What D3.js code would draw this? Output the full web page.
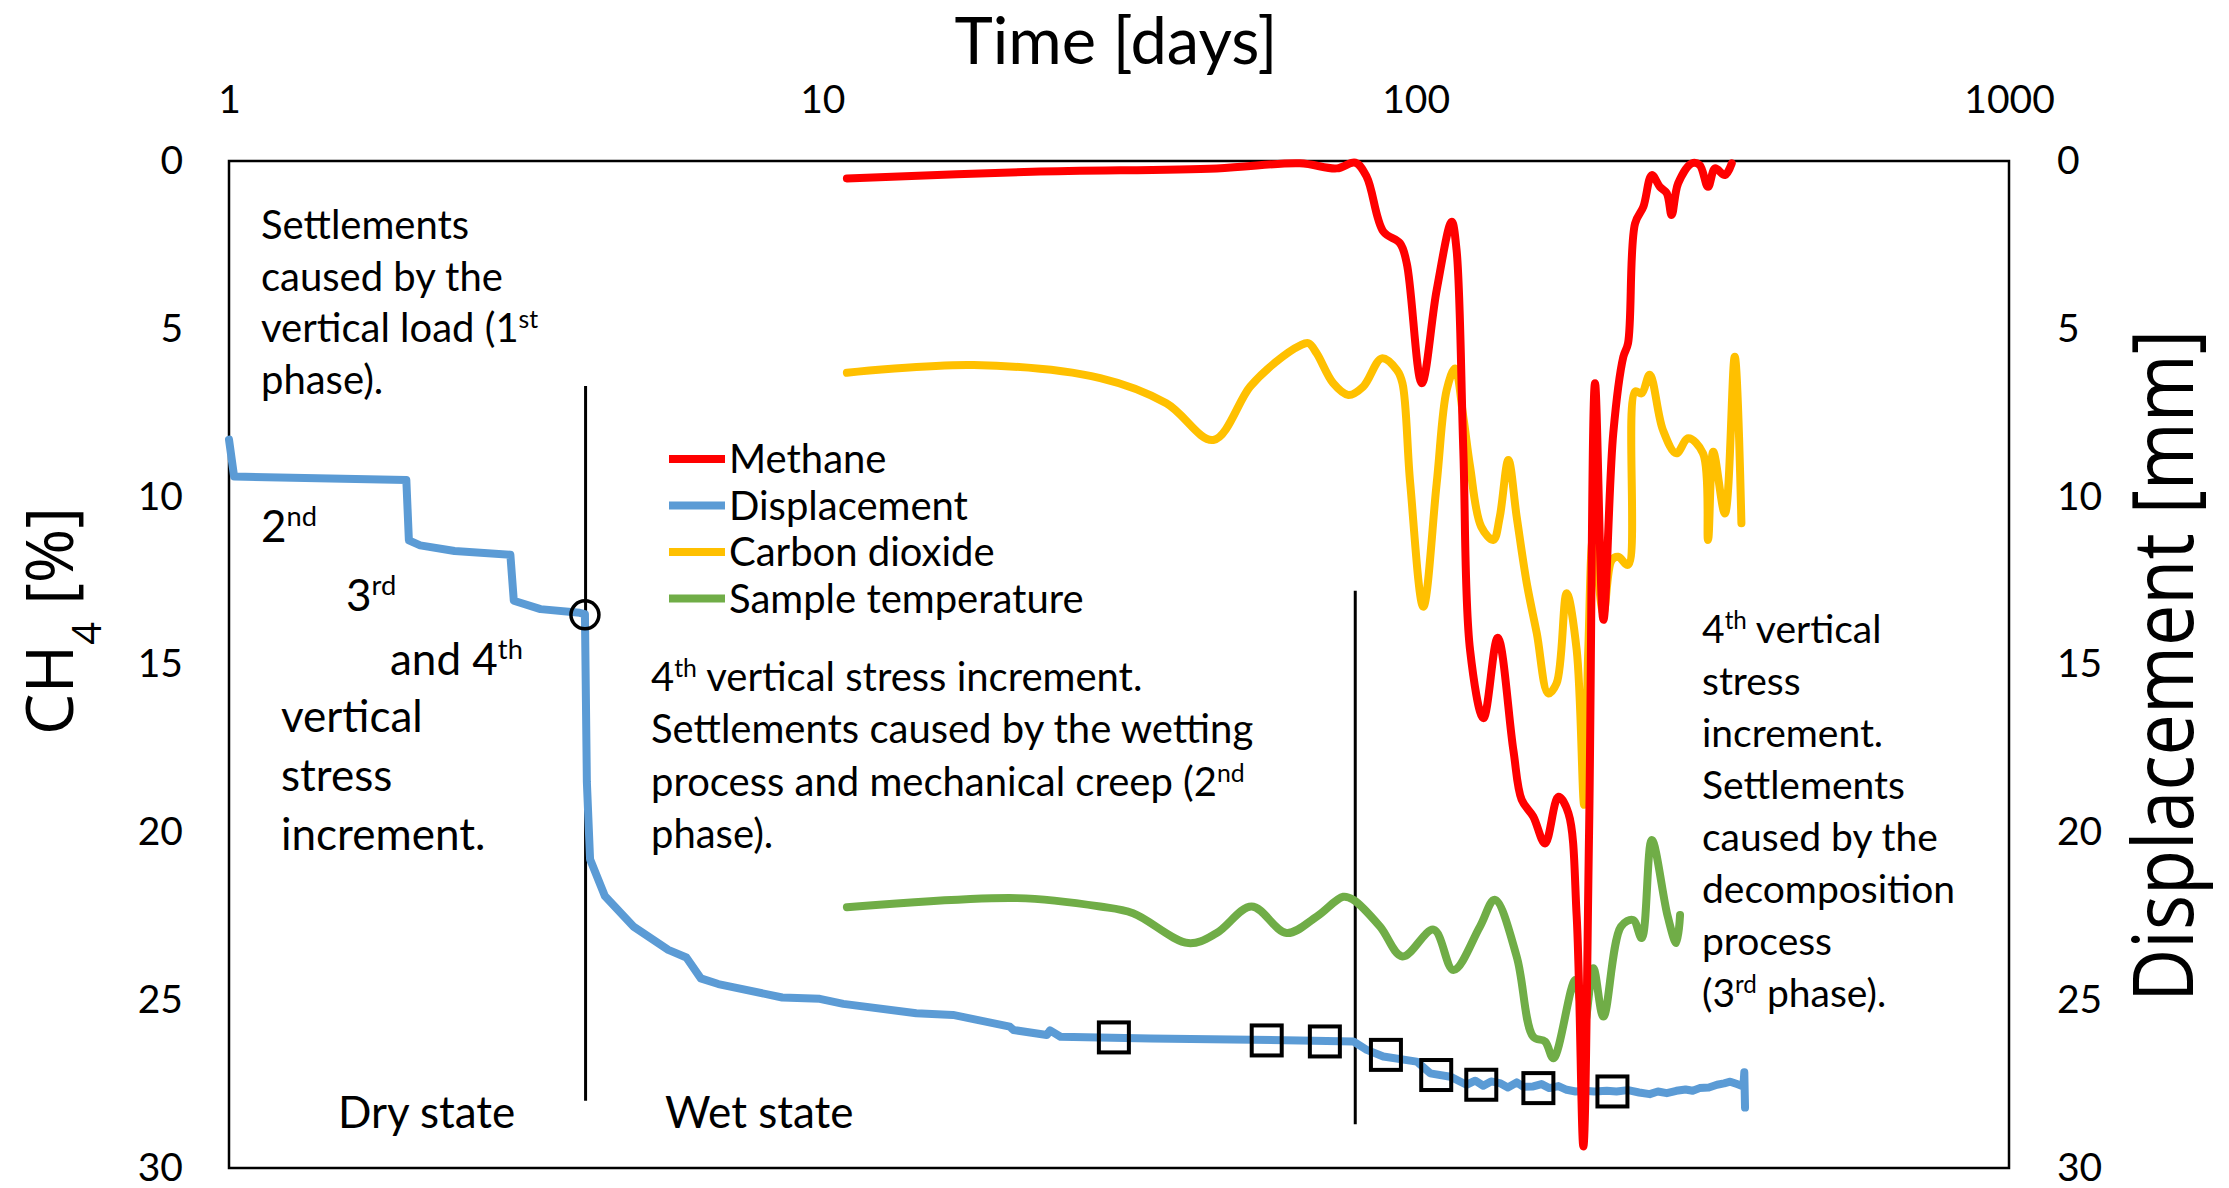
<!DOCTYPE html>
<html>
  <head>
    <meta charset="utf-8">
    <title>Methane, displacement and temperature vs time</title>
    <style>
      body { margin: 0; background: #fff; }
      svg { display: block; }
      .tick text { font-family: Lato, sans-serif; font-size: 39px; fill: #000; }
      .note { font-family: Lato, sans-serif; font-size: 40px; fill: #000; }
      .note.big { font-size: 44px; }
      .note.right { font-size: 39px; }
    </style>
  </head>
  <body>
    <div class="chart"></div>

    <script src="https://d3js.org/d3.v7.min.js"></script>
    <script>
      // series: [time in days, value]
      const methane = [
        [11.0, 0.52], [22.6, 0.32], [46.2, 0.22], [63.8, 0.07], [73.6, 0.22], [79.1, 0.05],
        [82.7, 0.47], [88.2, 2.1], [94.1, 2.45], [96.6, 3.05], [102.4, 6.62], [108.5, 3.84],
        [115.0, 1.81], [117.2, 2.65], [120.3, 8.6], [123.5, 14.57], [130.1, 16.6], [137.5, 14.2],
        [146.1, 17.55], [150.9, 19.03], [157.8, 19.53], [165.2, 20.33], [174, 18.94], [180.9, 19.43],
        [186.8, 22.51], [191.7, 29.36], [196, 20], [200.6, 6.62], [207.2, 13.67], [215.3, 8.11],
        [223.9, 5.83], [228, 5.43], [234.3, 1.86], [242, 1.36], [250, 0.42], [258, 0.77],
        [265, 0.96], [270, 1.61], [277, 0.66], [292, 0.07], [301, 0.12], [311, 0.77],
        [319.6, 0.22], [332, 0.42], [341, 0.07]
      ];

      const carbonDioxide = [
        [11.0, 6.31], [18.0, 6.08], [29.4, 6.47], [38.0, 7.22], [45.6, 8.31], [52.6, 6.72],
        [58, 6.0], [63.8, 5.5], [66, 5.43], [68.1, 5.73], [72.6, 6.62], [77, 6.97],
        [81.6, 6.72], [87.7, 5.88], [93, 6.23], [95, 6.62], [97.9, 9.6], [103, 13.28],
        [108.5, 9.6], [112.8, 6.82], [116.5, 6.18], [120.3, 7.62], [123.5, 9.1], [129, 10.9],
        [135.2, 11.29], [138.6, 10.6], [143.3, 8.91], [148, 10.6], [153.9, 12.58], [160, 14.07],
        [167.3, 15.86], [172.8, 15.56], [179.7, 12.88], [186.8, 14.57], [192.3, 19.18], [195.4, 14.57],
        [199.3, 11.19], [207.2, 13.47], [214, 11.89], [219.5, 11.79], [228, 12.03], [234.3, 6.87],
        [240.4, 6.92], [248, 6.37], [261, 8.01], [275, 8.71], [288, 8.26], [305, 8.71],
        [311, 11.29], [317.4, 8.66], [332, 10.5], [345, 5.83], [354, 10.79]
      ];

      const temperature = [
        [11.0, 22.23], [21.3, 21.96], [29.4, 22.21], [33.4, 22.41], [41.4, 23.3], [46.2, 23.0],
        [52.9, 22.21], [60.6, 23.0], [68.1, 22.51], [75.5, 21.92], [78.5, 22.01], [87.1, 22.81],
        [95, 23.7], [107.2, 22.9], [115.8, 24.1], [128.3, 22.81], [135.9, 22.01], [148, 23.7],
        [157.8, 26.09], [165.2, 26.23], [170.7, 26.73], [185.8, 24.4], [192.3, 25.74], [199.3, 24.05],
        [207.2, 25.49], [221.8, 22.81], [232.5, 22.61], [240.4, 23.15], [250, 20.23], [266, 22.51],
        [275, 23.3], [279, 22.46]
      ];

      const displacement = [
        [1.0, 8.3], [1.02, 9.4], [1.99, 9.5], [2.01, 11.3], [2.1, 11.45], [2.4, 11.62],
        [2.98, 11.73], [3.02, 13.1], [3.35, 13.35], [3.9, 13.46], [3.98, 13.5], [4.01, 18.5],
        [4.06, 20.8], [4.3, 21.9], [4.8, 22.8], [5.5, 23.5], [5.9, 23.73], [6.24, 24.35],
        [6.68, 24.52], [8.56, 24.92], [9.9, 24.96], [10.85, 25.11], [14.4, 25.39], [16.6, 25.44],
        [20.7, 25.79], [21.0, 25.89], [23.9, 26.04], [24.2, 25.9], [25.2, 26.09], [35.7, 26.14],
        [63.8, 26.2], [78.5, 26.23], [82.7, 26.48], [88.2, 26.68], [100.4, 26.83], [105.8, 27.18],
        [114.4, 27.28], [121.8, 27.52], [126, 27.4], [130, 27.55], [134, 27.42], [138.6, 27.47],
        [143, 27.6], [148, 27.45], [152, 27.58], [157.8, 27.57], [163, 27.5], [168, 27.62],
        [174, 27.56], [179.7, 27.67], [186, 27.72], [193, 27.7], [200, 27.72], [210, 27.7],
        [218, 27.72], [228, 27.68], [238, 27.75], [248, 27.8], [256, 27.72], [265, 27.77],
        [275, 27.7], [285, 27.66], [293, 27.7], [301, 27.62], [312, 27.6], [322, 27.52],
        [331, 27.48], [339, 27.43], [348, 27.5], [356.7, 27.57], [358, 27.15], [359, 28.2]
      ];

      // square markers on the displacement curve
      const squareDays = [31.0, 56.1, 70.3, 89.1, 108.3, 129, 161, 214.6];
      const squareValues = [26.11, 26.2, 26.23, 26.63, 27.23, 27.52, 27.62, 27.72];
      // open circle where wetting starts
      const circlePoint = [3.98, 13.52];
      // phase boundaries: [day, from, to]
      const phaseLines = [[3.99, 6.7, 28.0], [79.1, 12.8, 28.7]];

      const xTicks = [1, 10, 100, 1000];
      const yTicks = [0, 5, 10, 15, 20, 25, 30];

      const seriesNames = ["Methane", "Displacement", "Carbon dioxide", "Sample temperature"];
      const seriesColors = ["#ff0000", "#5b9bd5", "#ffc000", "#70ad47"];

      const margin = { top: 161, right: 220, bottom: 20, left: 229 };
      const width = 2229 - margin.left - margin.right;
      const height = 1188 - margin.top - margin.bottom;

      const x = d3.scaleLog().domain([1, 1000]).range([0, width]);
      const y = d3.scaleLinear().domain([0, 30]).range([0, height]);

      const svg = d3.select(".chart")
        .append("svg")
        .attr("width", 2229)
        .attr("height", 1188);

      const g = svg.append("g")
        .attr("transform", `translate(${margin.left},${margin.top})`);

      // axes (labels only, frame drawn below)
      g.append("g")
        .attr("class", "x axis")
        .call(d3.axisTop(x).tickValues(xTicks).tickFormat(d3.format("d")).tickSize(0).tickPadding(48))
        .call(a => a.select(".domain").remove());

      g.append("g")
        .attr("class", "y axis")
        .call(d3.axisLeft(y).tickValues(yTicks).tickSize(0).tickPadding(46))
        .call(a => a.select(".domain").remove());

      g.append("g")
        .attr("class", "y2 axis")
        .attr("transform", `translate(${width},0)`)
        .call(d3.axisRight(y).tickValues(yTicks).tickSize(0).tickPadding(48))
        .call(a => a.select(".domain").remove());

      g.append("rect")
        .attr("width", width)
        .attr("height", height)
        .attr("fill", "none")
        .attr("stroke", "#000")
        .attr("stroke-width", 2.5);

      // axis titles
      svg.append("text")
        .attr("x", 1116)
        .attr("y", 64)
        .attr("text-anchor", "middle")
        .style("font-family", "Lato, sans-serif")
        .style("font-size", "65px")
        .text("Time [days]");

      const ch4 = svg.append("text")
        .attr("transform", "translate(73,621) rotate(-90)")
        .attr("text-anchor", "middle")
        .style("font-family", "'Open Sans', sans-serif")
        .style("font-size", "66px");
      ch4.append("tspan").text("CH");
      ch4.append("tspan").attr("baseline-shift", "sub").style("font-size", "40px").text("4");
      ch4.append("tspan").text(" [%]");

      svg.append("text")
        .attr("transform", "translate(2193,666) rotate(-90)")
        .attr("text-anchor", "middle")
        .attr("textLength", 672)
        .attr("lengthAdjust", "spacingAndGlyphs")
        .style("font-family", "'Open Sans', sans-serif")
        .style("font-size", "84px")
        .text("Displacement [mm]");

      // phase boundary lines
      g.selectAll(".phase")
        .data(phaseLines)
        .enter().append("line")
        .attr("class", "phase")
        .attr("x1", d => x(d[0]))
        .attr("x2", d => x(d[0]))
        .attr("y1", d => y(d[1]))
        .attr("y2", d => y(d[2]))
        .attr("stroke", "#000")
        .attr("stroke-width", 3);

      // data lines
      const smooth = d3.line()
        .x(d => x(d[0]))
        .y(d => y(d[1]))
        .curve(d3.curveCatmullRom.alpha(0.5));

      const straight = d3.line()
        .x(d => x(d[0]))
        .y(d => y(d[1]));

      const lines = [
        [temperature, seriesColors[3], smooth],
        [carbonDioxide, seriesColors[2], smooth],
        [displacement, seriesColors[1], straight],
        [methane, seriesColors[0], smooth]
      ];

      lines.forEach(([data, color, gen]) => {
        g.append("path")
          .datum(data)
          .attr("fill", "none")
          .attr("stroke", color)
          .attr("stroke-width", 8)
          .attr("stroke-linejoin", "round")
          .attr("stroke-linecap", "round")
          .attr("d", gen);
      });

      // markers
      g.selectAll(".sq")
        .data(squareDays)
        .enter().append("rect")
        .attr("class", "sq")
        .attr("x", d => x(d) - 15)
        .attr("y", (d, i) => y(squareValues[i]) - 15)
        .attr("width", 30)
        .attr("height", 30)
        .attr("fill", "none")
        .attr("stroke", "#000")
        .attr("stroke-width", 4);

      g.append("circle")
        .attr("cx", x(circlePoint[0]))
        .attr("cy", y(circlePoint[1]))
        .attr("r", 14)
        .attr("fill", "none")
        .attr("stroke", "#000")
        .attr("stroke-width", 3.5);

      // legend
      const legend = svg.append("g").attr("transform", "translate(669,459)");
      seriesNames.forEach((name, i) => {
        legend.append("line")
          .attr("x1", 0).attr("x2", 56)
          .attr("y1", i * 46.5).attr("y2", i * 46.5)
          .attr("stroke", seriesColors[i])
          .attr("stroke-width", 8);
        legend.append("text")
          .attr("class", "note")
          .attr("x", 60)
          .attr("y", i * 46.5 + 14)
          .text(name);
      });

      // annotations; ^...^ marks a superscript
      function note(xPos, yPos, step, lines, cls) {
        lines.forEach((line, i) => {
          const t = svg.append("text")
            .attr("class", cls)
            .attr("x", xPos)
            .attr("y", yPos + i * step);
          line.split("^").forEach((part, j) => {
            if (!part) return;
            const s = t.append("tspan").text(part);
            if (j % 2 === 1) s.attr("baseline-shift", "super").style("font-size", "0.62em");
          });
        });
      }

      note(261, 239, 51.7, ["Settlements", "caused by the", "vertical load (1^st^", "phase)."], "note");
      note(261, 542, 0, ["2^nd^"], "note big");
      note(346, 611, 0, ["3^rd^"], "note big");
      note(390, 675, 0, ["and 4^th^"], "note big");
      note(281, 732, 58.8, ["vertical", "stress", "increment."], "note big");
      note(651, 691, 52.4, ["4^th^ vertical stress increment.", "Settlements caused by the wetting",
        "process and mechanical creep (2^nd^", "phase)."], "note");
      note(1702, 643, 52.0, ["4^th^ vertical", "stress", "increment.", "Settlements", "caused by the",
        "decomposition", "process", "(3^rd^ phase)."], "note right");
      note(338, 1128, 0, ["Dry state"], "note big");
      note(665, 1128, 0, ["Wet state"], "note big");
    </script>
  </body>
</html>
